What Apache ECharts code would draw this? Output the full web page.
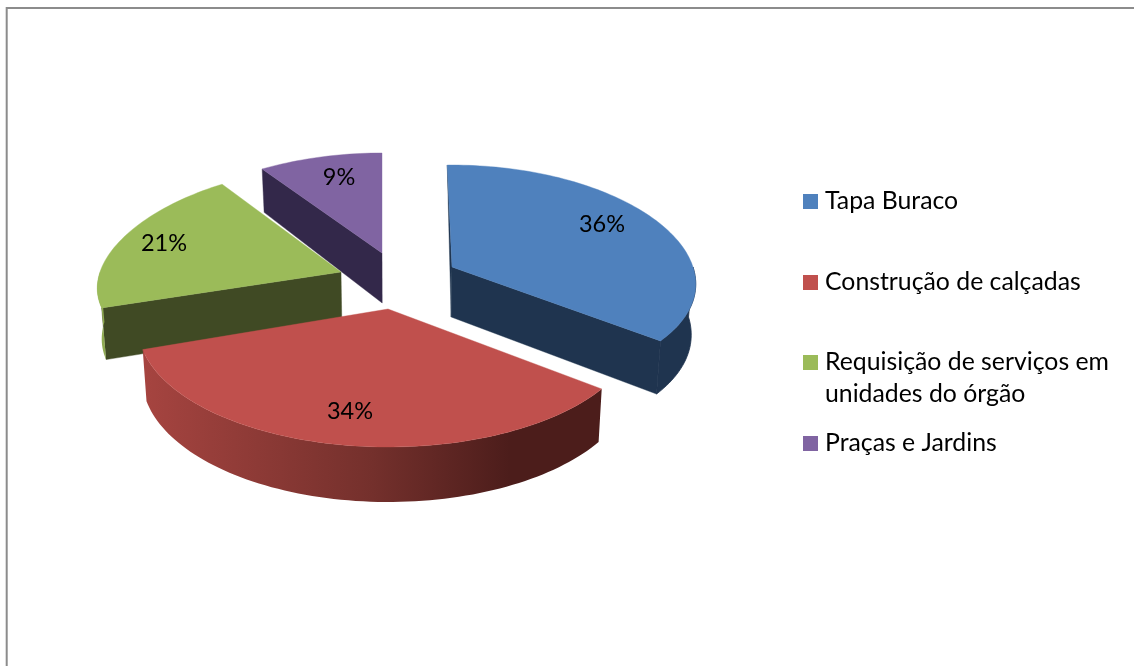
<!DOCTYPE html>
<html><head><meta charset="utf-8">
<style>html,body{margin:0;padding:0;background:#fff}#c{width:1134px;height:666px}</style>
<script src="https://cdn.jsdelivr.net/npm/echarts@6/dist/echarts.min.js"></script>
</head><body><div id="c"></div>
<script>
const categories = ['Tapa Buraco','Construção de calçadas','Requisição de serviços em','Praças e Jardins'];
const values = [36,34,21,9];
const sliceColors = ['#4F81BD','#C0504D','#9BBB59','#8064A2'];
const wallColors = ['#1F344F','#4A1E1C','#404A24','#33284A'];
const rimColors = ['#1F344F','#4A1E1C','#8FAB52','#33284A'];

// layout of the projected pie (one set per exploded slice)
const apexes = [[452,267],[388,309],[341,272],[382,253]];
const radii = [241,247,241,243];
const tilts = [112,116.6,107.8,106];
const perspective = [0.0986,0.155,0.026,0.06];
const labelAt = [[602,224],[350,411],[164,243],[339,177]];
const startRot = [-1.3,-1.3,-1.3,-1.3];
const endRot = [-1.3,-1.3,-1.3,0];
const XK = 0.15, DEPTH = 50, VX = 395, VSHIFT = 0.015;
const drawOrder = [3,2,0,1];
const FONT = 'Lato, sans-serif', FS = 24.8, LABEL_FS = 23.5;

const total = values.reduce((a,b)=>a+b,0);
const starts = []; values.reduce((a,v,i)=>{starts[i]=a;return a+v;},0);

function project(i, deg, r, low){
  const a = deg*Math.PI/180, x = Math.sin(a)*r, y = -Math.cos(a)*r;
  let sx = apexes[i][0]+radii[i]*x/(1-XK*y), sy = apexes[i][1]+tilts[i]*y/(1-perspective[i]*y);
  if(low){
    sx += (VX-sx)*VSHIFT;
    sy += DEPTH*(1+y*(y<0?0.16:0.1));
  }
  return [sx,sy];
}
function arc(i,a0,a1,low){
  const pts=[]; const n=Math.max(2,Math.ceil(Math.abs(a1-a0)/1.5));
  for(let k=0;k<=n;k++) pts.push(project(i,a0+(a1-a0)*k/n,1,low));
  return pts;
}
function render(i){
  return function(params, api){
    const v = api.value(0);
    const a0 = starts[i]/total*360+startRot[i], a1 = starts[i]/total*360 + v/total*360+endRot[i];
    const kids=[];
    const poly=(points,fill)=>({type:'polygon',shape:{points},style:{fill,stroke:fill,lineWidth:0.4}});
    const c=project(i,0,0,false), cl=project(i,0,0,true);
    const startTop=project(i,a0,1,false), startLow=project(i,a0,1,true);
    const endTop=project(i,a1,1,false), endLow=project(i,a1,1,true);
    // radial cut faces that face the viewer
    if(i===0){
      kids.push(poly([startTop,c,cl],wallColors[i]));
      kids.push(poly([c,endTop,endLow,cl],wallColors[i]));
    }
    if(i===2||i===3) kids.push(poly([c,startTop,startLow,cl],wallColors[i]));
    // outer rim
    let fill = rimColors[i];
    if(i===1){
      fill = new echarts.graphic.LinearGradient(0,0,1,0,[
        {offset:0,color:'#A64440'},{offset:0.5,color:'#74302C'},{offset:0.8,color:'#4C1D1B'},{offset:1,color:'#4C1D1B'}]);
    }
    const rim = i===0?[90,a1]:i===1?[a0,a1]:i===2?[a0,270]:null;
    if(rim){
      const t=arc(i,rim[0],rim[1],false), l=arc(i,rim[0],rim[1],true).reverse();
      kids.push({type:'polygon',shape:{points:t.concat(l)},style:{fill,stroke:i===0?fill:null,lineWidth:0.8}});
    }
    // top face
    kids.push(poly([c].concat(arc(i,a0,a1,false)),sliceColors[i]));
    // percent label
    kids.push({type:'text',x:labelAt[i][0],y:labelAt[i][1],
      style:{text:v+'%',fill:'#000',font:LABEL_FS+'px '+FONT,align:'center',verticalAlign:'middle'}});
    return {type:'group',children:kids};
  };
}
const legendCenters = [201.5,282.5,362.5,443.5];
const series = drawOrder.map(i=>({
  type:'custom',name:categories[i],coordinateSystem:'none',
  data:[[values[i]]],renderItem:render(i),
  itemStyle:{color:sliceColors[i]},silent:true,animation:false,clip:false,z:2
}));
const chart = echarts.init(document.getElementById('c'),null,{renderer:'canvas'});
chart.setOption({
  backgroundColor:'#fff',animation:false,
  legend: categories.map((name,i)=>({
    data:[{name,icon:'rect'}],left:803,top:legendCenters[i]-14,itemWidth:15,itemHeight:15,
    padding:0,selectedMode:false,
    textStyle:{color:'#000',fontSize:FS,height:28,lineHeight:28,fontFamily:FONT,padding:[0,0,0,2]}
  })),
  graphic:[
    {type:'rect',shape:{x:6.7,y:7.9,width:1300,height:900},style:{fill:'none',stroke:'#8C8C8C',lineWidth:2},silent:true,z:0},
    {type:'text',left:825,top:382,style:{text:'unidades do órgão',fill:'#000',font:FS+'px '+FONT},silent:true}
  ],
  series
});
</script></body></html>
